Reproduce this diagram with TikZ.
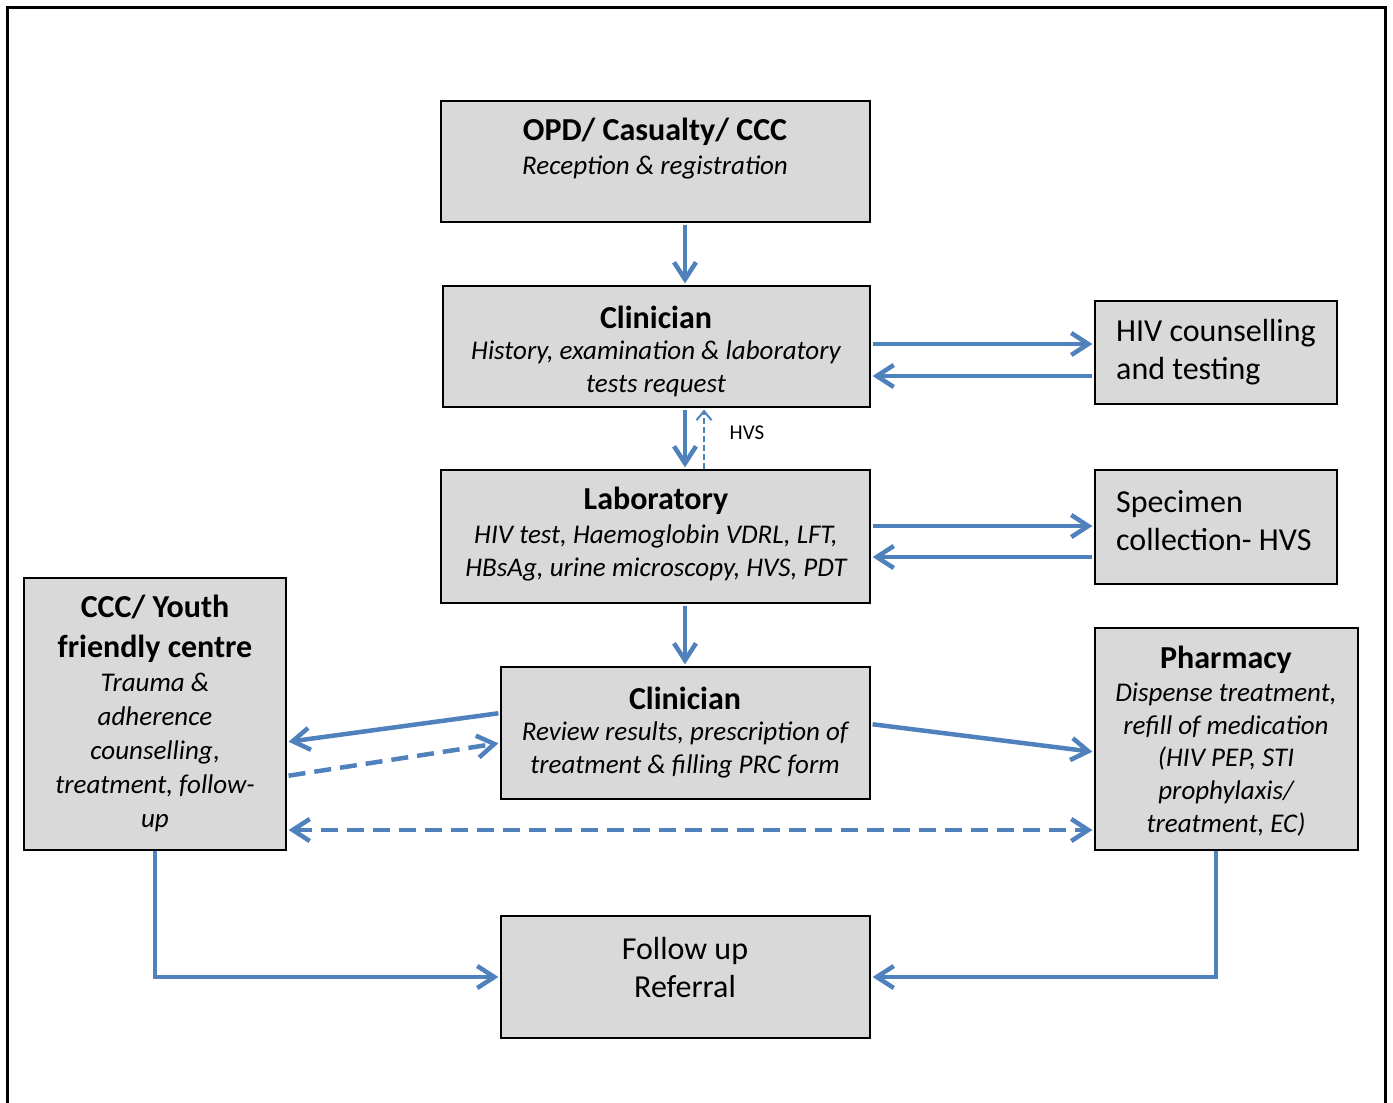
\documentclass[tikz,border=0pt]{standalone}
\usepackage{fontspec}
\setmainfont{Carlito}
\usetikzlibrary{arrows.meta}
\tikzset{>={Straight Barb[length=17pt,width=22pt]}}
\definecolor{flowblue}{HTML}{4F81BD}
\definecolor{boxgrey}{HTML}{D9D9D9}
\tikzset{
  box/.style={draw=black, line width=1.2pt, fill=boxgrey, inner sep=0pt},
  flow/.style={->, line width=4.5pt, color=flowblue, shorten >=2pt, shorten <=2pt},
  flowdash/.style={flow, dash pattern=on 17pt off 9pt},
  hvsflow/.style={-{Straight Barb[length=9pt,width=15pt]}, line width=2pt, color=flowblue,
    dash pattern=on 6pt off 3pt, shorten >=2pt},
  title/.style={font=\fontsize{32}{40}\selectfont\bfseries, align=center, inner sep=0pt},
  body/.style={font=\fontsize{27}{33}\selectfont\itshape, align=center, inner sep=0pt},
  plain/.style={font=\fontsize{32}{38}\selectfont, inner sep=0pt}
}
\begin{document}
\begin{tikzpicture}[x=1pt,y=-1pt]
  \useasboundingbox (0,0) rectangle (1393,1103);
  \draw[line width=3pt] (7,1103) -- (7,7) -- (1385,7) -- (1385,1103);

  % boxes
  \node[box, minimum width=429pt, minimum height=121pt] (opd)    at (655.5,161.5) {};
  \node[box, minimum width=427pt, minimum height=121pt] (clin1)  at (656.5,346.5) {};
  \node[box, minimum width=242pt, minimum height=103pt] (hiv)    at (1216,352.5) {};
  \node[box, minimum width=429pt, minimum height=133pt] (lab)    at (655.5,536.5) {};
  \node[box, minimum width=242pt, minimum height=114pt] (spec)   at (1216,527) {};
  \node[box, minimum width=262pt, minimum height=272pt] (ccc)    at (155,714) {};
  \node[box, minimum width=369pt, minimum height=132pt] (clin2)  at (685.5,733) {};
  \node[box, minimum width=263pt, minimum height=222pt] (pharm)  at (1226.5,739) {};
  \node[box, minimum width=369pt, minimum height=122pt] (follow) at (685.5,977) {};

  % texts
  \node[title] (opdt) at (655,132) {OPD/ Casualty/ CCC};
  \node[body]  (opdb) at (655,167) {Reception \& registration};

  \node[title] (clin1t) at (656,317) {Clinician};
  \node[body]  (clin1b) at (656,368.5) {History, examination \& laboratory\\tests request};

  \node[plain, anchor=west, align=left] (hivt) at (1116,352) {HIV counselling\\and testing};

  \node[title] (labt) at (656,501) {Laboratory};
  \node[body]  (labb) at (656,552.5) {HIV test, Haemoglobin VDRL, LFT,\\HBsAg, urine microscopy, HVS, PDT};

  \node[plain, anchor=west, align=left] (spect) at (1116,521) {Specimen\\collection- HVS};

  \node[title] (ccct) at (155,629) {CCC/ Youth\\friendly centre};
  \node[body, font=\fontsize{27}{34}\selectfont\itshape] (cccb) at (155,752)
    {Trauma \&\\adherence\\counselling{\upshape,}\\treatment, follow-\\up};

  \node[title] (clin2t) at (685,698) {Clinician};
  \node[body]  (clin2b) at (685,750) {Review results, prescription of\\treatment \& filling PRC form};

  \node[title] (pharmt) at (1226,660) {Pharmacy};
  \node[body, font=\fontsize{27}{32.75}\selectfont\itshape] (pharmb) at (1226,759.5)
    {Dispense treatment,\\refill of medication\\(HIV PEP, STI\\prophylaxis/\\treatment, EC)};

  \node[plain, align=center] (followt) at (685,967) {Follow up\\Referral};

  \node[font=\fontsize{21}{25}\selectfont, inner sep=0pt] (hvs) at (747,433) {HVS};

  % connectors
  \coordinate (axis)   at (685,0);
  \coordinate (hvsx)   at (704,0);
  \coordinate (pharmx) at (1216,0);
  \coordinate (hivout) at (0,344);
  \coordinate (hivin)  at (0,376);
  \coordinate (spout)  at (0,526);
  \coordinate (spin)   at (0,557);

  \draw[flow] (opd.south -| axis) -- (clin1.north -| axis);
  \draw[flow] (clin1.south -| axis) -- (lab.north -| axis);
  \draw[hvsflow] (lab.north -| hvsx) -- (clin1.south -| hvsx);
  \draw[flow] (lab.south -| axis) -- (clin2.north -| axis);

  \draw[flow] (clin1.east |- hivout) -- (hiv.west |- hivout);
  \draw[flow] (hiv.west |- hivin) -- (clin1.east |- hivin);
  \draw[flow] (lab.east |- spout) -- (spec.west |- spout);
  \draw[flow] (spec.west |- spin) -- (lab.east |- spin);

  \coordinate (c2l) at (0,713);
  \coordinate (cccin) at (0,742);
  \coordinate (cccout) at (0,776);
  \coordinate (c2in) at (0,743);
  \coordinate (c2r) at (0,724);
  \coordinate (phin) at (0,752);
  \coordinate (both) at (0,830);

  \draw[flow] (clin2.west |- c2l) -- (ccc.east |- cccin);
  \draw[flowdash] (ccc.east |- cccout) -- (clin2.west |- c2in);
  \draw[flow] (clin2.east |- c2r) -- (pharm.west |- phin);
  \draw[flowdash, <->] (ccc.east |- both) -- (pharm.west |- both);

  \draw[flow, shorten <=0pt] (ccc.south) |- (follow.west);
  \draw[flow, shorten <=0pt] (pharm.south -| pharmx) |- (follow.east);
\end{tikzpicture}
\end{document}
